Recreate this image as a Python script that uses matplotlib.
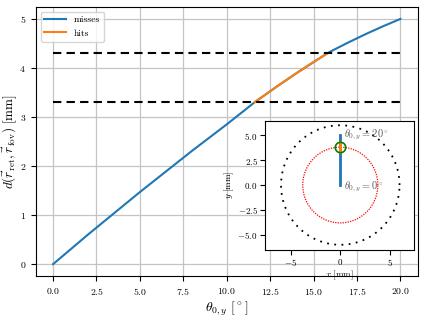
import numpy as np
import matplotlib
matplotlib.use('Agg')
import matplotlib.pyplot as plt

plt.rcParams['mathtext.fontset'] = 'cm'
plt.rcParams['font.family'] = 'serif'
plt.rcParams['font.serif'] = ['cmr10', 'DejaVu Serif']
plt.rcParams['axes.formatter.use_mathtext'] = True

# ============ Du lieu doc tu hinh ============
theta = [0, 1, 2, 3, 4, 5, 6, 7, 8, 9, 10, 11, 11.6, 12, 13, 14, 15, 15.8,
         16, 17, 18, 19, 20]
dist = [0.00, 0.30, 0.60, 0.89, 1.18, 1.47, 1.75, 2.03, 2.31, 2.58, 2.85,
        3.13, 3.30, 3.40, 3.65, 3.89, 4.12, 4.30, 4.34, 4.52, 4.69, 4.85, 5.00]
r_lo, r_hi = 3.3, 4.3          # hai duong net dut
r_outer = 6.0                  # vong tron den (inset)
r_inner = 3.8                  # vong tron do (inset)
hit_center = 3.8               # vong tron xanh la (inset)

theta = np.array(theta)
dist = np.array(dist)
hit = (dist >= r_lo - 1e-9) & (dist <= r_hi + 1e-9)

# ============ Plot chinh ============
fig = plt.figure(figsize=(4.25, 3.17), dpi=100)
ax = fig.add_axes([0.084, 0.128, 0.899, 0.851])

ax.plot(theta, dist, color='C0', lw=1.5, label='misses')
ax.plot(theta[hit], dist[hit], color='C1', lw=1.5, label='hits')
ax.hlines([r_lo, r_hi], theta[0], theta[-1], colors='k', linestyles=(0, (4, 2.5)), lw=1.5)

ax.set_xlim(-1.0, 21.0)
ax.set_ylim(-0.25, 5.25)
ax.set_xticks(np.arange(0, 20.1, 2.5))
ax.set_yticks(range(0, 6))
ax.tick_params(labelsize=7)
ax.grid(True, color='#c4c4c4', lw=0.9)
ax.set_xlabel(r'$\theta_{0,y}\ [^\circ]$', fontsize=10, labelpad=2)
ax.set_ylabel(r'$d(\vec{r}_{\rm ret},\vec{r}_{\rm fov})\ [\rm mm]$', fontsize=9.5, labelpad=0)
ax.legend(loc='upper left', fontsize=7, handlelength=2.2, framealpha=0.8)

# ============ Inset ============
ins = fig.add_axes([0.624, 0.212, 0.351, 0.407])
phi = np.linspace(0, 2 * np.pi, 400)
ins.plot(r_outer * np.cos(phi), r_outer * np.sin(phi), color='k',
         ls=(0, (1, 3)), lw=1.3)
ins.plot(r_inner * np.cos(phi), r_inner * np.sin(phi), color='red',
         ls=(0, (1, 1)), lw=0.9)
ins.plot(np.zeros_like(dist), dist, color='C0', lw=2)
ins.plot(np.zeros(hit.sum()), dist[hit], color='C1', lw=2)
ins.plot([0], [hit_center], 'o', mfc='none', mec='green', ms=7.5, mew=1.2)
ins.text(0.35, dist[-1], r'$\theta_{0,y} = 20^\circ$', color='0.35',
         fontsize=7.5, va='center')
ins.text(0.35, -0.2, r'$\theta_{0,y} = 0^\circ$', color='0.35',
         fontsize=7.5, va='center')
ins.set_xlim(-7.6, 7.5)
ins.set_ylim(-6.5, 6.45)
ins.set_xticks([-5, 0, 5])
ins.set_yticks([-5, -2.5, 0, 2.5, 5])
ins.tick_params(labelsize=6.5, pad=2)
ins.set_xlabel(r'$x\ [\rm mm]$', fontsize=6.5, labelpad=0)
ins.set_ylabel(r'$y\ [\rm mm]$', fontsize=6.5, labelpad=1)

fig.savefig('out.png', dpi=100)
